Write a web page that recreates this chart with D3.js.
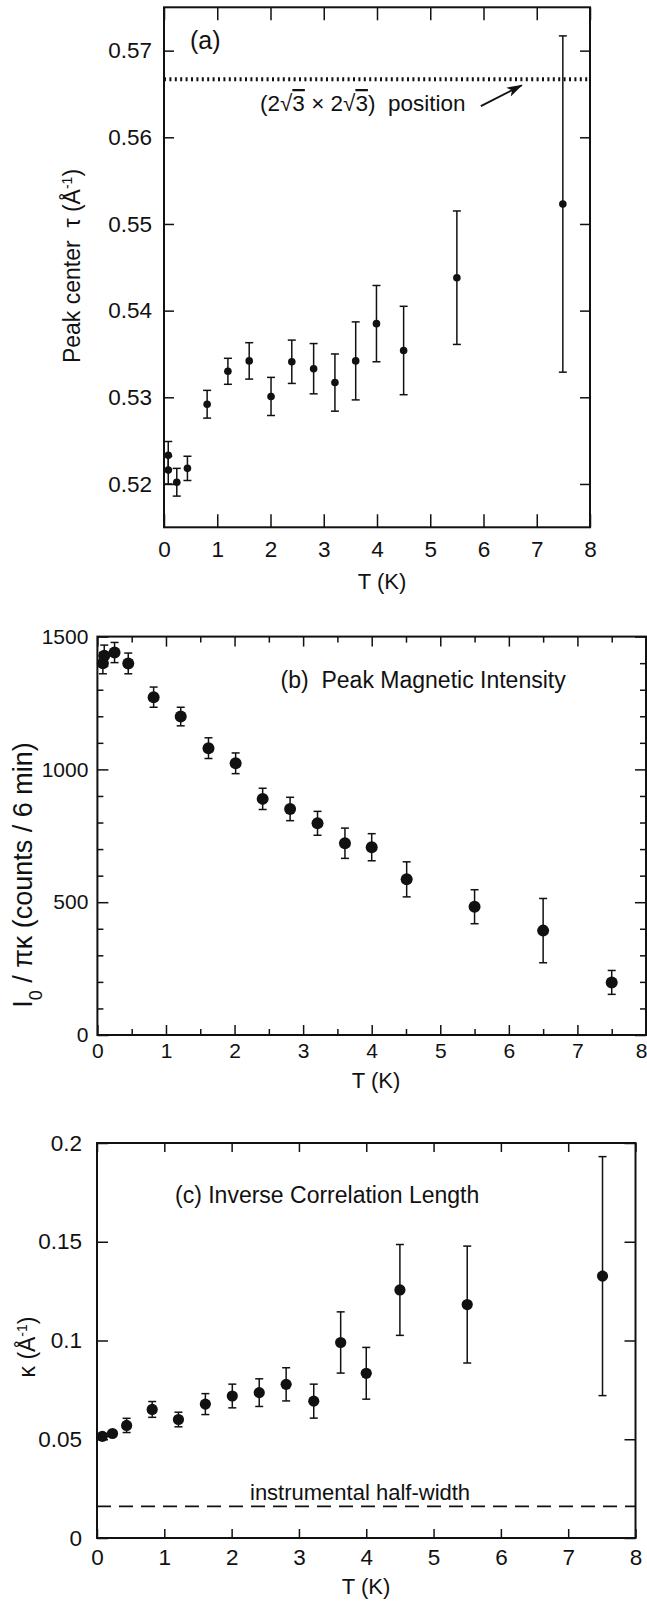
<!DOCTYPE html>
<html>
<head>
<meta charset="utf-8">
<script src="https://cdn.jsdelivr.net/npm/d3@7"></script>
<style>
body { margin: 0; background: #fff; }
svg text { font-family: "Liberation Sans", Arial, Helvetica, sans-serif; fill: #111; }
</style>
</head>
<body>
<script>
// (a) peak center tau vs T
const tA = [0.08, 0.08, 0.24, 0.44, 0.81, 1.2, 1.6, 2.01, 2.4, 2.81, 3.21, 3.6, 3.99, 4.5, 5.5, 7.49]
const tauA = [0.5233, 0.5216, 0.5202, 0.5218, 0.5292, 0.5330, 0.5342, 0.5301, 0.5341, 0.5333, 0.5317, 0.5342, 0.5385, 0.5354, 0.5438, 0.5523]
const tauErrA = [0.0016, 0.0016, 0.0016, 0.0014, 0.0016, 0.0015, 0.0021, 0.0022, 0.0025, 0.0029, 0.0033, 0.0045, 0.0044, 0.0051, 0.0077, 0.0194]
const tau2r3 = 0.5667

// (b) peak magnetic intensity
const tB = [0.08, 0.1, 0.25, 0.45, 0.82, 1.215, 1.62, 2.016, 2.41, 2.81, 3.21, 3.61, 4.0, 4.51, 5.5, 6.5, 7.5]
const intB = [1400, 1428, 1440, 1399, 1272, 1199, 1080, 1023, 889, 851, 797, 722, 707, 586, 483, 393, 198]
const intErrB = [40, 40, 38, 39, 38, 35, 39, 39, 40, 44, 45, 57, 51, 66, 64, 121, 45]

// (c) inverse correlation length
const tC = [0.08, 0.23, 0.44, 0.82, 1.21, 1.61, 2.01, 2.41, 2.81, 3.22, 3.62, 4.0, 4.5, 5.5, 7.51]
const kapC = [0.0515, 0.0529, 0.0570, 0.0651, 0.0600, 0.0678, 0.0719, 0.0736, 0.0778, 0.0693, 0.0990, 0.0834, 0.1256, 0.1182, 0.1326]
const kapErrC = [0.0012, 0.0012, 0.0036, 0.0040, 0.0037, 0.0053, 0.0060, 0.0070, 0.0084, 0.0086, 0.0155, 0.0131, 0.0230, 0.0296, 0.0605]
const kapInstr = 0.016

// ticks
const xTicks = [0, 1, 2, 3, 4, 5, 6, 7, 8]
const xMinorB = [0.5, 1.5, 2.5, 3.5, 4.5, 5.5, 6.5, 7.5]
const yTicksA = [0.52, 0.53, 0.54, 0.55, 0.56, 0.57]
const yLabelsA = ["0.52", "0.53", "0.54", "0.55", "0.56", "0.57"]
const yTicksB = [0, 500, 1000, 1500]
const yMinorB = [100, 200, 300, 400, 600, 700, 800, 900, 1100, 1200, 1300, 1400]
const yTicksC = [0, 0.05, 0.1, 0.15, 0.2]
const yLabelsC = ["0", "0.05", "0.1", "0.15", "0.2"]

let svg = d3.select("body").append("svg")
    .attr("width", 647)
    .attr("height", 1602)

svg.append("defs").append("marker")
    .attr("id", "arr")
    .attr("viewBox", "0 0 16 10")
    .attr("refX", 15).attr("refY", 5)
    .attr("markerUnits", "userSpaceOnUse")
    .attr("markerWidth", 16).attr("markerHeight", 10)
    .attr("orient", "auto")
    .append("path")
    .attr("d", "M0,0L16,5L0,10L4,5Z")
    .attr("fill", "#111")

function frame(x, y, o) {
    let x0 = x.range()[0], x1 = x.range()[1], y0 = y.range()[0], y1 = y.range()[1]
    let fix = g => {
        g.select(".domain").remove()
        g.attr("font-family", null).attr("font-size", null)
        g.selectAll("line").attr("stroke", "#111").attr("stroke-width", 1.5)
        g.selectAll("text").style("font-size", o.fs + "px")
    }
    let bottom = svg.append("g").attr("transform", "translate(0," + y0 + ")")
        .call(d3.axisBottom(x).tickValues(xTicks).tickSize(-o.xLen).tickPadding(o.xPad).tickFormat(d => d))
        .call(fix)
    // last label sits on the page edge in panel (b)
    if (o.edge) bottom.selectAll("text").filter(d => d == 8).attr("text-anchor", "end").attr("dx", o.edge)
    svg.append("g").attr("transform", "translate(0," + y1 + ")")
        .call(d3.axisTop(x).tickValues(xTicks).tickSize(-o.xLen).tickFormat(""))
        .call(fix)
    svg.append("g").attr("transform", "translate(" + x0 + ",0)")
        .call(d3.axisLeft(y).tickValues(o.yTicks).tickSize(-o.yLen).tickPadding(o.yPad).tickFormat((d, i) => o.yLabels[i]))
        .call(fix)
    svg.append("g").attr("transform", "translate(" + x1 + ",0)")
        .call(d3.axisRight(y).tickValues(o.yTicks).tickSize(-o.yLen).tickFormat(""))
        .call(fix)
    if (o.xMinor) {
        svg.append("g").attr("transform", "translate(0," + y0 + ")")
            .call(d3.axisBottom(x).tickValues(o.xMinor).tickSize(-6).tickFormat("")).call(fix)
        svg.append("g").attr("transform", "translate(0," + y1 + ")")
            .call(d3.axisTop(x).tickValues(o.xMinor).tickSize(-6).tickFormat("")).call(fix)
    }
    if (o.yMinor) {
        svg.append("g").attr("transform", "translate(" + x0 + ",0)")
            .call(d3.axisLeft(y).tickValues(o.yMinor).tickSize(-6).tickFormat("")).call(fix)
        svg.append("g").attr("transform", "translate(" + x1 + ",0)")
            .call(d3.axisRight(y).tickValues(o.yMinor).tickSize(-6).tickFormat("")).call(fix)
    }
    svg.append("rect")
        .attr("x", x0).attr("y", y1)
        .attr("width", x1 - x0).attr("height", y0 - y1)
        .attr("fill", "none").attr("stroke", "#111").attr("stroke-width", 2)
}

function points(x, y, ts, vs, es, r) {
    let g = svg.append("g").attr("stroke", "#111").attr("stroke-width", 1.5)
    let idx = d3.range(ts.length)
    g.selectAll(".bar").data(idx).join("line")
        .attr("x1", i => x(ts[i])).attr("x2", i => x(ts[i]))
        .attr("y1", i => y(vs[i] - es[i])).attr("y2", i => y(vs[i] + es[i]))
    g.selectAll(".capT").data(idx).join("line")
        .attr("x1", i => x(ts[i]) - 4).attr("x2", i => x(ts[i]) + 4)
        .attr("y1", i => y(vs[i] + es[i])).attr("y2", i => y(vs[i] + es[i]))
    g.selectAll(".capB").data(idx).join("line")
        .attr("x1", i => x(ts[i]) - 4).attr("x2", i => x(ts[i]) + 4)
        .attr("y1", i => y(vs[i] - es[i])).attr("y2", i => y(vs[i] - es[i]))
    svg.append("g").selectAll("circle").data(idx).join("circle")
        .attr("cx", i => x(ts[i])).attr("cy", i => y(vs[i]))
        .attr("r", r).attr("fill", "#111")
}

function label(x, y, fs, parts, rot) {
    let t = svg.append("text")
        .attr("transform", "translate(" + x + "," + y + ")" + (rot ? " rotate(-90)" : ""))
        .attr("text-anchor", rot === undefined ? "start" : "middle")
        .style("font-size", fs + "px")
        .style("white-space", "pre")
    parts.forEach(p => {
        let s = t.append("tspan").text(p[0])
        if (p[1] == "sup") s.attr("baseline-shift", "super").style("font-size", Math.round(fs * 0.62) + "px")
        if (p[1] == "sub") s.attr("baseline-shift", "sub").style("font-size", Math.round(fs * 0.65) + "px")
        if (p[1] == "over") s.style("text-decoration", "overline")
    })
    return t
}

// ---- panel (a)
let xA = d3.scaleLinear().domain([0, 8]).range([164, 590])
let yA = d3.scaleLinear().domain([0.515, 0.575]).range([527.3, 7.3])

svg.append("line")
    .attr("x1", xA(0)).attr("x2", xA(8))
    .attr("y1", yA(tau2r3)).attr("y2", yA(tau2r3))
    .attr("stroke", "#111").attr("stroke-width", 4)
    .attr("stroke-dasharray", "2,3.4")

frame(xA, yA, {xLen: 13, yLen: 10, xPad: 14, yPad: 12, fs: 22.5, yTicks: yTicksA, yLabels: yLabelsA})
points(xA, yA, tA, tauA, tauErrA, 3.8)

label(190, 49, 25, [["(a)"]])
label(260, 111, 22.5, [["(2√"], ["3", "over"], [" × 2√"], ["3", "over"], [")  position"]])
svg.append("line")
    .attr("x1", xA(5.95)).attr("y1", yA(0.5636))
    .attr("x2", xA(6.72)).attr("y2", yA(0.5660))
    .attr("stroke", "#111").attr("stroke-width", 1.8)
    .attr("marker-end", "url(#arr)")

label(382, 589, 22, [["T (K)"]], false)
label(80, 266, 23, [["Peak center  τ (Å"], ["-1", "sup"], [")"]], true)

// ---- panel (b)
let xB = d3.scaleLinear().domain([0, 8]).range([97.4, 646])
let yB = d3.scaleLinear().domain([0, 1500]).range([1035, 636.6])

frame(xB, yB, {xLen: 10, yLen: 11, xPad: 8, yPad: 9, fs: 21, yTicks: yTicksB, yLabels: yTicksB.map(String), xMinor: xMinorB, yMinor: yMinorB, edge: 1})
points(xB, yB, tB, intB, intErrB, 6)

label(280.6, 688, 23, [["(b)  Peak Magnetic Intensity"]])
label(376, 1088, 22, [["T (K)"]], false)
label(32, 875, 27, [["I"], ["0", "sub"], [" / πκ (counts / 6 min)"]], true)

// ---- panel (c)
let xC = d3.scaleLinear().domain([0, 8]).range([97, 635.5])
let yC = d3.scaleLinear().domain([0, 0.2]).range([1538, 1143])

svg.append("line")
    .attr("x1", xC(0)).attr("x2", xC(8))
    .attr("y1", yC(kapInstr)).attr("y2", yC(kapInstr))
    .attr("stroke", "#111").attr("stroke-width", 1.8)
    .attr("stroke-dasharray", "14,8")

frame(xC, yC, {xLen: 9, yLen: 11, xPad: 11, yPad: 15, fs: 22.5, yTicks: yTicksC, yLabels: yLabelsC})
points(xC, yC, tC, kapC, kapErrC, 5.6)

label(175, 1203, 23, [["(c) Inverse Correlation Length"]])
label(250, 1500, 22, [["instrumental half-width"]])
label(366, 1594, 22, [["T (K)"]], false)
label(35, 1347, 23, [["κ (Å"], ["-1", "sup"], [")"]], true)
</script>
</body>
</html>
